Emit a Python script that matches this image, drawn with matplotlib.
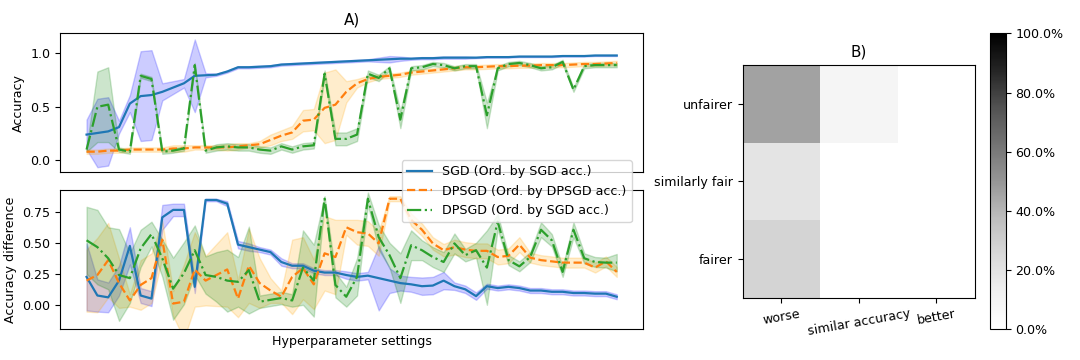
import numpy as np
import matplotlib
matplotlib.use("Agg")
import matplotlib.pyplot as plt
from matplotlib.ticker import PercentFormatter

plt.rcParams["font.size"] = 9.1

# accuracy per hyperparameter setting (sorted), mean and std over runs
sgd_acc = [0.24, 0.255, 0.27, 0.31, 0.53, 0.60, 0.61, 0.64, 0.68, 0.72,
           0.79, 0.795, 0.80, 0.83, 0.87, 0.87, 0.875, 0.88, 0.895, 0.90,
           0.905, 0.91, 0.915, 0.92, 0.925, 0.93, 0.935, 0.94, 0.945, 0.95,
           0.95, 0.955, 0.955, 0.96, 0.96, 0.96, 0.96, 0.965, 0.965, 0.965,
           0.97, 0.97, 0.97, 0.97, 0.975, 0.975, 0.975, 0.98, 0.98, 0.98]
sgd_acc_std = [0.14, 0.32, 0.32, 0.06, 0.08, 0.42, 0.42, 0.08, 0.06, 0.04,
               0.34, 0.02, 0.01, 0.01, 0.01, 0.01, 0.01, 0.01, 0.01, 0.01,
               0.01, 0.01, 0.01, 0.01, 0.01, 0.01, 0.01, 0.02, 0.03, 0.02,
               0.01, 0.01, 0.01, 0.01, 0.01, 0.01, 0.005, 0.005, 0.005, 0.005,
               0.005, 0.005, 0.005, 0.005, 0.005, 0.005, 0.005, 0.005, 0.005, 0.005]

dp_acc = [0.08, 0.08, 0.09, 0.09, 0.10, 0.10, 0.10, 0.10, 0.11, 0.11,
          0.12, 0.12, 0.12, 0.12, 0.13, 0.14, 0.15, 0.19, 0.23, 0.26,
          0.37, 0.38, 0.49, 0.52, 0.64, 0.72, 0.76, 0.78, 0.79, 0.80,
          0.82, 0.83, 0.84, 0.85, 0.86, 0.87, 0.87, 0.875, 0.88, 0.88,
          0.885, 0.885, 0.89, 0.89, 0.89, 0.895, 0.90, 0.90, 0.905, 0.91]
dp_acc_std = [0.02, 0.02, 0.02, 0.02, 0.02, 0.02, 0.02, 0.02, 0.03, 0.03,
              0.02, 0.02, 0.02, 0.03, 0.03, 0.02, 0.03, 0.05, 0.05, 0.06,
              0.10, 0.10, 0.33, 0.33, 0.10, 0.04, 0.03, 0.02, 0.02, 0.02,
              0.02, 0.02, 0.02, 0.02, 0.02, 0.02, 0.02, 0.02, 0.02, 0.02,
              0.02, 0.02, 0.02, 0.02, 0.02, 0.02, 0.02, 0.02, 0.02, 0.02]

dp_sgd_acc = [0.10, 0.50, 0.52, 0.10, 0.08, 0.79, 0.76, 0.08, 0.09, 0.11,
              0.89, 0.09, 0.12, 0.13, 0.12, 0.12, 0.10, 0.09, 0.13, 0.10,
              0.13, 0.14, 0.81, 0.20, 0.20, 0.24, 0.81, 0.77, 0.86, 0.38,
              0.86, 0.87, 0.90, 0.89, 0.86, 0.88, 0.88, 0.42, 0.86, 0.90,
              0.91, 0.89, 0.86, 0.87, 0.92, 0.66, 0.88, 0.89, 0.89, 0.89]
dp_sgd_acc_std = [0.02, 0.33, 0.35, 0.02, 0.02, 0.02, 0.02, 0.02, 0.02, 0.02,
                  0.02, 0.02, 0.03, 0.03, 0.03, 0.03, 0.03, 0.03, 0.03, 0.03,
                  0.03, 0.03, 0.03, 0.06, 0.06, 0.06, 0.03, 0.03, 0.02, 0.08,
                  0.02, 0.02, 0.02, 0.02, 0.02, 0.02, 0.02, 0.12, 0.02, 0.02,
                  0.02, 0.02, 0.02, 0.02, 0.02, 0.02, 0.02, 0.02, 0.02, 0.02]

# accuracy difference between groups
sgd_diff = [0.23, 0.08, 0.065, 0.20, 0.48, 0.08, 0.055, 0.71, 0.77, 0.77,
            0.15, 0.85, 0.85, 0.82, 0.49, 0.47, 0.45, 0.43, 0.35, 0.32,
            0.32, 0.28, 0.265, 0.265, 0.245, 0.23, 0.24, 0.22, 0.20, 0.18,
            0.17, 0.155, 0.16, 0.20, 0.155, 0.13, 0.075, 0.155, 0.14, 0.15,
            0.14, 0.12, 0.12, 0.11, 0.11, 0.10, 0.10, 0.095, 0.095, 0.07]
sgd_diff_std = [0.27, 0.13, 0.12, 0.12, 0.15, 0.06, 0.06, 0.10, 0.05, 0.05,
                0.05, 0.01, 0.01, 0.02, 0.03, 0.03, 0.02, 0.02, 0.03, 0.02,
                0.02, 0.02, 0.02, 0.02, 0.03, 0.03, 0.03, 0.26, 0.10, 0.06,
                0.06, 0.07, 0.07, 0.07, 0.03, 0.03, 0.03, 0.02, 0.02, 0.02,
                0.02, 0.02, 0.02, 0.02, 0.02, 0.02, 0.02, 0.02, 0.02, 0.02]

dp_diff = [0.20, 0.245, 0.365, 0.18, 0.04, 0.165, 0.22, 0.53, 0.015, 0.03,
           0.29, 0.20, 0.245, 0.29, 0.055, 0.32, 0.18, 0.12, 0.07, 0.23,
           0.30, 0.17, 0.42, 0.39, 0.63, 0.59, 0.58, 0.50, 0.86, 0.86,
           0.69, 0.61, 0.50, 0.445, 0.47, 0.45, 0.44, 0.44, 0.39, 0.40,
           0.49, 0.385, 0.365, 0.355, 0.345, 0.345, 0.345, 0.305, 0.355, 0.27]
dp_diff_std = [0.25, 0.30, 0.30, 0.20, 0.05, 0.20, 0.20, 0.15, 0.10, 0.30,
               0.30, 0.20, 0.25, 0.30, 0.15, 0.30, 0.20, 0.10, 0.05, 0.30,
               0.25, 0.20, 0.30, 0.30, 0.06, 0.10, 0.10, 0.10, 0.02, 0.02,
               0.05, 0.05, 0.05, 0.05, 0.06, 0.06, 0.06, 0.06, 0.06, 0.06,
               0.06, 0.04, 0.04, 0.04, 0.04, 0.04, 0.04, 0.04, 0.04, 0.04]

dp_sgd_diff = [0.525, 0.47, 0.38, 0.245, 0.22, 0.46, 0.575, 0.38, 0.135, 0.26,
               0.445, 0.245, 0.23, 0.20, 0.19, 0.285, 0.03, 0.045, 0.06, 0.04,
               0.305, 0.20, 0.86, 0.165, 0.07, 0.23, 0.86, 0.55, 0.405, 0.22,
               0.485, 0.445, 0.39, 0.35, 0.50, 0.405, 0.445, 0.305, 0.675, 0.365,
               0.315, 0.39, 0.61, 0.525, 0.27, 0.61, 0.38, 0.35, 0.345, 0.345]
dp_sgd_diff_std = [0.27, 0.30, 0.25, 0.37, 0.20, 0.15, 0.10, 0.15, 0.25, 0.25,
                   0.20, 0.15, 0.20, 0.25, 0.20, 0.35, 0.05, 0.05, 0.05, 0.05,
                   0.30, 0.29, 0.02, 0.10, 0.08, 0.15, 0.05, 0.10, 0.10, 0.20,
                   0.12, 0.08, 0.08, 0.08, 0.08, 0.05, 0.06, 0.30, 0.06, 0.04,
                   0.04, 0.04, 0.06, 0.05, 0.04, 0.06, 0.04, 0.04, 0.04, 0.07]

labels = ["SGD (Ord. by SGD acc.)", "DPSGD (Ord. by DPSGD acc.)", "DPSGD (Ord. by SGD acc.)"]

# part B: share of settings
acc_cats = ["worse", "similar accuracy", "better"]
fair_cats = ["unfairer", "similarly fair", "fairer"]
share = [[0.46, 0.08, 0.0],
         [0.19, 0.0, 0.0],
         [0.27, 0.0, 0.0]]

fig = plt.figure(figsize=(10.8, 3.6), dpi=100)
ax1 = fig.add_axes([0.0556, 0.5222, 0.540, 0.386])
ax2 = fig.add_axes([0.0556, 0.0861, 0.540, 0.386])
ax3 = fig.add_axes([0.687, 0.173, 0.2167, 0.646])
cax = fig.add_axes([0.9167, 0.0861, 0.0145, 0.821])

x = np.arange(len(sgd_acc))
styles = [("C0", "-", "blue"), ("C1", "--", "orange"), ("C2", "-.", "green")]


def draw(ax, series):
    lines = []
    for (m, s), (c, ls, fc), lab in zip(series, styles, labels):
        m = np.array(m)
        s = np.array(s)
        ln, = ax.plot(x, m, color=c, ls=ls, lw=1.6, label=lab)
        ax.fill_between(x, m - s, m + s, color=fc, alpha=0.2)
        lines.append(ln)
    ax.set_xticks([])
    return lines


handles = draw(ax1, [(sgd_acc, sgd_acc_std), (dp_acc, dp_acc_std), (dp_sgd_acc, dp_sgd_acc_std)])
draw(ax2, [(sgd_diff, sgd_diff_std), (dp_diff, dp_diff_std), (dp_sgd_diff, dp_sgd_diff_std)])

ax1.set_ylim(-0.11, 1.19)
ax1.set_yticks([0.0, 0.5, 1.0])
ax1.set_ylabel("Accuracy")
ax1.set_title("A)")
ax2.set_ylim(-0.19, 0.93)
ax2.set_yticks([0.0, 0.25, 0.5, 0.75])
ax2.set_ylabel("Accuracy difference")
ax2.set_xlabel("Hyperparameter settings")

fig.legend(handles=handles, loc="upper right", bbox_to_anchor=(0.5907, 0.5722))

im = ax3.imshow(np.array(share), cmap="Greys", vmin=0, vmax=1)
ax3.set_xticks(range(3))
ax3.set_xticklabels(acc_cats, rotation=10)
ax3.set_yticks(range(3))
ax3.set_yticklabels(fair_cats)
ax3.set_title("B)")
fig.colorbar(im, cax=cax, format=PercentFormatter(1.0, decimals=1))

fig.savefig("out.png", dpi=100)
